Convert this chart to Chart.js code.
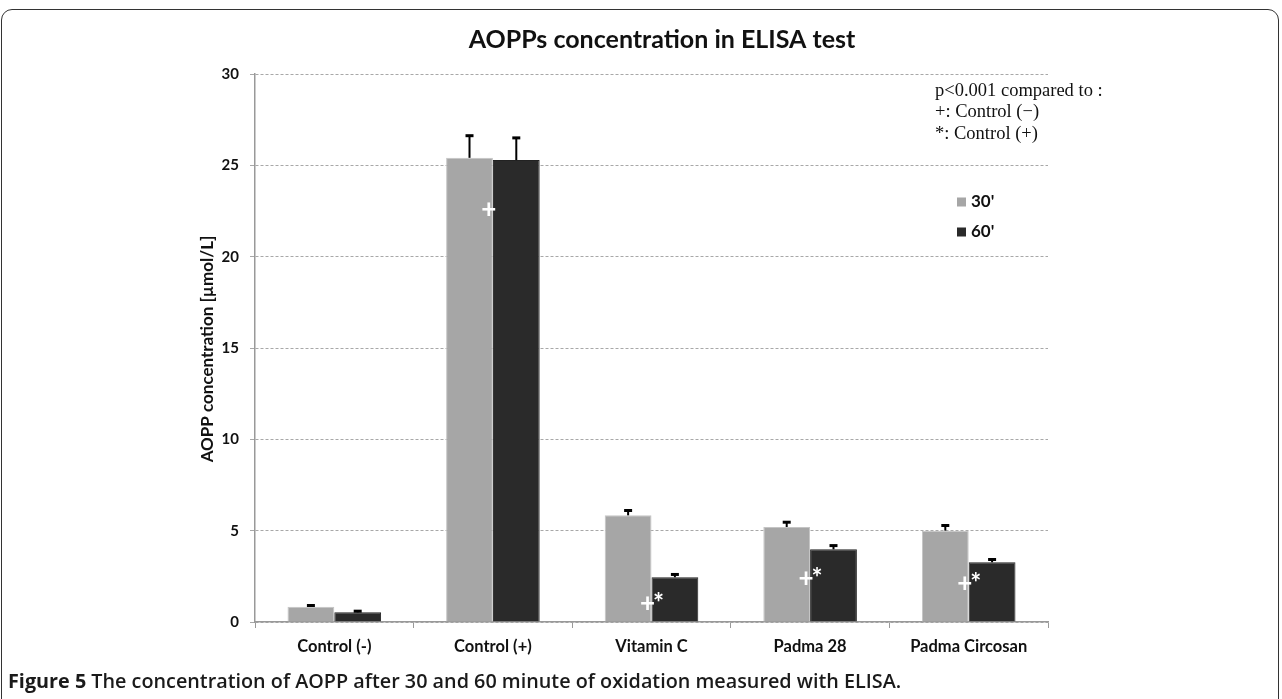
<!DOCTYPE html>
<html><head><meta charset="utf-8">
<script src="https://cdn.jsdelivr.net/npm/chart.js@4.4.1/dist/chart.umd.min.js"></script>
<style>
html,body{margin:0;padding:0;background:#fff;width:1282px;height:699px;overflow:hidden;}
#frame{position:absolute;left:1px;top:9px;width:1276px;height:720px;border:1.5px solid #333;border-radius:11px;}
#wrap{position:absolute;left:0;top:0;width:1282px;height:699px;}
#caption{position:absolute;left:8px;top:667px;font-family:"Open Sans",Lato,sans-serif;font-size:19.8px;font-weight:600;color:#1a1a1a;white-space:nowrap;}
#caption b{font-weight:700;}
</style></head>
<body>
<div id="frame"></div>
<div id="wrap"><canvas id="c" width="1282" height="699"></canvas></div>
<div id="caption"><b>Figure 5</b> The concentration of AOPP after 30 and 60 minute of oxidation measured with ELISA.</div>
<script>
const categories = ["Control (-)", "Control (+)", "Vitamin C", "Padma 28", "Padma Circosan"];
const seriesLabels = ["30'", "60'"];
const values30 = [0.84, 25.41, 5.84, 5.20, 5.00];
const values60 = [0.53, 25.29, 2.45, 3.98, 3.27];
const err30 = [0.09, 1.24, 0.29, 0.29, 0.31];
const err60 = [0.09, 1.24, 0.18, 0.23, 0.18];
const markPlus = [null, 22.6, 1.0, 2.4, 2.1];
const markStar = [null, null, 1.2, 2.6, 2.3];
const yTicks = [0, 5, 10, 15, 20, 25, 30];
const titleText = "AOPPs concentration in ELISA test";
const yTitle = "AOPP concentration [\u00b5mol/L]";
const noteLines = ["p<0.001 compared to :", "+: Control (\u2212)", "*: Control (+)"];

const colors = ["#a6a6a6", "#2a2a2a"];
const FONT = "Lato, 'Open Sans', sans-serif";

const extras = {
  id: 'extras',
  afterDatasetsDraw(chart) {
    const ctx = chart.ctx;
    const y = chart.scales.y;
    const errs = [err30, err60];
    ctx.save();
    ctx.strokeStyle = '#000';
    chart.data.datasets.forEach((ds, di) => {
      const meta = chart.getDatasetMeta(di);
      meta.data.forEach((bar, i) => {
        const top = y.getPixelForValue(ds.data[i]);
        const et = y.getPixelForValue(ds.data[i] + errs[di][i]);
        ctx.lineWidth = 2;
        ctx.beginPath(); ctx.moveTo(bar.x, top); ctx.lineTo(bar.x, et); ctx.stroke();
        ctx.lineWidth = 3;
        ctx.beginPath(); ctx.moveTo(bar.x - 4, et + 0.5); ctx.lineTo(bar.x + 4, et + 0.5); ctx.stroke();
      });
    });
    const x = chart.scales.x;
    ctx.fillStyle = '#fff';
    ctx.textAlign = 'center'; ctx.textBaseline = 'middle';
    categories.forEach((c, i) => {
      const cx = x.getPixelForValue(i);
      if (markPlus[i] !== null) {
        ctx.font = "bold 26px " + FONT;
        ctx.fillText('+', cx - 4, y.getPixelForValue(markPlus[i]));
      }
      if (markStar[i] !== null) {
        ctx.font = "bold 26px " + FONT;
        ctx.fillText('*', cx + 7, y.getPixelForValue(markStar[i]) + 4);
      }
    });
    ctx.restore();
  },
  afterDraw(chart) {
    const ctx = chart.ctx;
    ctx.save();
    ctx.fillStyle = '#111';
    ctx.font = "bold 25px " + FONT;
    ctx.textAlign = 'center'; ctx.textBaseline = 'middle';
    ctx.fillText(titleText, 662, 40);
    ctx.save();
    ctx.translate(208, 349);
    ctx.rotate(-Math.PI / 2);
    ctx.font = "bold 17px " + FONT;
    ctx.fillText(yTitle, 0, 0);
    ctx.restore();
    ctx.font = "18.5px 'Liberation Serif', serif";
    ctx.textAlign = 'left';
    noteLines.forEach((t, i) => ctx.fillText(t, 935, 91 + i * 21.5));
    ctx.font = "bold 17px " + FONT;
    seriesLabels.forEach((t, i) => {
      const ly = 202 + i * 30;
      ctx.fillStyle = colors[i];
      ctx.fillRect(957, ly - 4.5, 9, 9);
      ctx.fillStyle = '#111';
      ctx.fillText(t, 971, ly);
    });
    ctx.restore();
  }
};

new Chart(document.getElementById('c'), {
  type: 'bar',
  data: {
    labels: categories,
    datasets: [
      { label: seriesLabels[0], data: values30, backgroundColor: colors[0], borderColor: '#c4c4c4', borderWidth: 1 },
      { label: seriesLabels[1], data: values60, backgroundColor: colors[1], borderColor: '#222', borderWidth: 1 }
    ]
  },
  options: {
    responsive: false,
    animation: false,
    events: [],
    layout: { padding: { left: 190, right: 234, top: 74, bottom: 37 } },
    datasets: { bar: { categoryPercentage: 0.59, barPercentage: 1.0 } },
    plugins: { legend: { display: false }, title: { display: false }, tooltip: { enabled: false } },
    scales: {
      x: {
        afterFit: s => { s.height = 40; },
        grid: { display: true, drawOnChartArea: false, offset: true, color: '#999', tickLength: 6 },
        border: { color: '#999', width: 1.5 },
        ticks: { color: '#111', font: { family: FONT, size: 16.5, weight: 'bold' }, padding: 9 }
      },
      y: {
        min: 0, max: 30,
        afterFit: s => { s.width = 65; },
        afterBuildTicks: s => { s.ticks = yTicks.map(v => ({ value: v })); },
        grid: { color: '#a8a8a8', tickLength: 5, lineWidth: 1 },
        border: { color: '#999', width: 1.5, dash: [3, 2] },
        ticks: { color: '#111', font: { family: FONT, size: 15, weight: 'bold' }, padding: 11 }
      }
    }
  },
  plugins: [extras]
});
</script>
</body></html>
